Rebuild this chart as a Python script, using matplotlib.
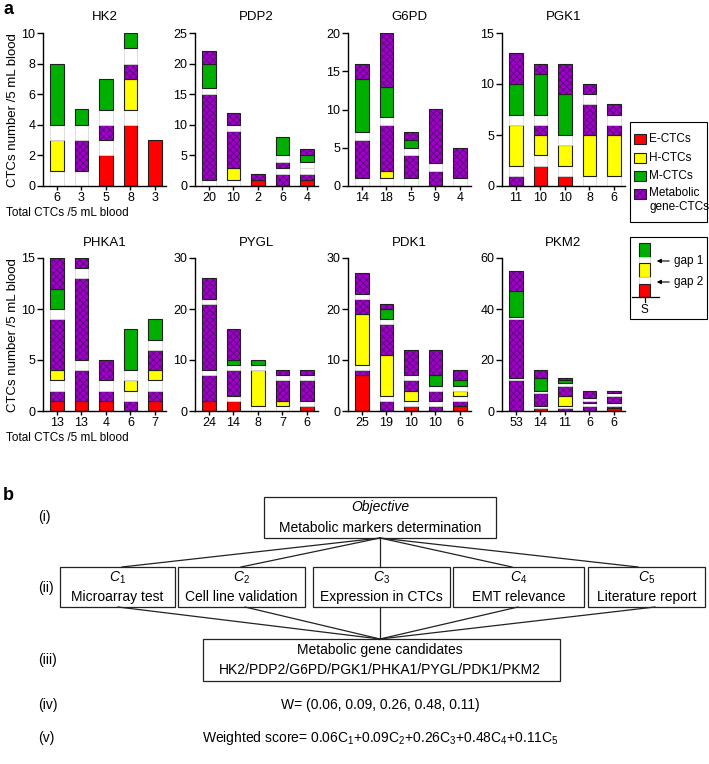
import matplotlib
matplotlib.use('Agg')
import matplotlib.pyplot as plt
from matplotlib import font_manager
from matplotlib.patches import Rectangle

# fonts: Arial-like for panel a, narrow for the flow chart if available
names = {f.name for f in font_manager.fontManager.ttflist}
narrow = 'Liberation Sans Narrow' if 'Liberation Sans Narrow' in names else 'Liberation Sans'
plt.rcParams['font.family'] = ['Liberation Sans', 'DejaVu Sans']
plt.rcParams['mathtext.fontset'] = 'custom'
plt.rcParams['mathtext.rm'] = narrow
plt.rcParams['mathtext.it'] = narrow + ':italic'
plt.rcParams['hatch.linewidth'] = 0.6

W, H = 709, 764

# ---- panel a data ----
genes = ['HK2', 'PDP2', 'G6PD', 'PGK1', 'PHKA1', 'PYGL', 'PDK1', 'PKM2']
y_tops = [10, 25, 20, 15, 15, 30, 30, 60]
y_steps = [2, 5, 5, 5, 5, 10, 10, 20]

# total CTCs /5 mL blood (x tick labels)
totals_hk2 = [6, 3, 5, 8, 3]
totals_pdp2 = [20, 10, 2, 6, 4]
totals_g6pd = [14, 18, 5, 9, 4]
totals_pgk1 = [11, 10, 10, 8, 6]
totals_phka1 = [13, 13, 4, 6, 7]
totals_pygl = [24, 14, 8, 7, 6]
totals_pdk1 = [25, 19, 10, 10, 6]
totals_pkm2 = [53, 14, 11, 6, 6]

# stacked pieces from the bottom up
# E = E-CTCs, H = H-CTCs, M = M-CTCs, P = metabolic gene-CTCs, g = gap
stack_hk2 = ['g1 H2 g1 M4', 'g1 P2 g1 M1', 'E2 g1 P1 g1 M2', 'E4 g1 H2 P1 g1 M1', 'E3']
stack_pdp2 = ['g1 P14 g1 M4 P2', 'g1 H2 P6 g1 P2', 'E1 P1', 'P2 g1 P1 g1 M3', 'E1 P1 g1 g1 M1 P1']
stack_g6pd = ['g1 P5 g1 M7 P2', 'g1 H1 P6 g1 M4 P7', 'g1 P3 g1 M1 P1', 'P2 g1 P7', 'g1 P4']
stack_pgk1 = ['P1 g1 H4 g1 M3 P3', 'E2 g1 H2 P1 g1 M4 P1', 'E1 g1 H2 g1 M4 P3', 'g1 H4 P3 g1 P1', 'g1 H4 P1 g1 P1']
stack_phka1 = ['E1 P1 g1 H1 P5 g1 M2 P3', 'E1 P3 g1 P8 g1 P1', 'E1 P1 g1 P2', 'P1 g1 H1 g1 M4', 'E1 P1 g1 H1 P2 g1 M2']
stack_pygl = ['E2 P5 g1 P13 g1 P4', 'E2 g1 P5 g1 M1 P6', 'g1 H7 g1 M1', 'g1 H1 P4 g1 P1', 'E1 g1 P4 g1 P1']
stack_pdk1 = ['E7 P1 g1 H10 P3 g1 P4', 'P2 g1 H8 P6 g1 M2 P1', 'E1 g1 H2 P2 g1 P5', 'P1 g1 P2 g1 M2 P5', 'E1 P1 g1 H1 g1 M1 P2']
stack_pkm2 = ['P12 g1 P23 g1 M10 P8', 'E1 g1 P5 g1 M5 P3', 'P1 g1 H4 P4 g1 M1 P1', 'P2 g1 P1 g1 P3', 'E1 P1 g1 P3 g1 P1']

stacks = [stack_hk2, stack_pdp2, stack_g6pd, stack_pgk1, stack_phka1, stack_pygl, stack_pdk1, stack_pkm2]
totals = [totals_hk2, totals_pdp2, totals_g6pd, totals_pgk1, totals_phka1, totals_pygl, totals_pdk1, totals_pkm2]

legend_labels = ['E-CTCs', 'H-CTCs', 'M-CTCs', 'Metabolic\ngene-CTCs']

# ---- panel b data ----
criteria = ['Microarray test', 'Cell line validation', 'Expression in CTCs', 'EMT relevance', 'Literature report']
weights = [0.06, 0.09, 0.26, 0.48, 0.11]
candidates = ['HK2', 'PDP2', 'G6PD', 'PGK1', 'PHKA1', 'PYGL', 'PDK1', 'PKM2']

colors = {'E': '#ff0000', 'H': '#ffff00', 'M': '#00b000', 'P': '#a000c8'}
dot_color = '#5a0a7a'
outline = '#202020'
bw = 0.55

fig = plt.figure(figsize=(W / 100, H / 100), dpi=100)


def px_axes(left, top, width, height):
    return fig.add_axes([left / W, 1 - (top + height) / H, width / W, height / H])


def draw_gene(ax, name, stk, tot, ytop, ystep):
    for i, s in enumerate(stk):
        bottom = 0
        for piece in s.split():
            kind, h = piece[0], int(piece[1:])
            if kind == 'g':
                ax.bar(i, h, bottom=bottom, width=bw, color='white', edgecolor='#d9d9d9', lw=0.6)
            elif kind == 'P':
                ax.bar(i, h, bottom=bottom, width=bw, color=colors['P'], edgecolor=dot_color,
                       hatch='xxxxx', lw=0)
                ax.bar(i, h, bottom=bottom, width=bw, fill=False, edgecolor=outline, lw=0.8)
            else:
                ax.bar(i, h, bottom=bottom, width=bw, color=colors[kind], edgecolor=outline, lw=0.8)
            bottom += h
    ax.set_xlim(-0.57, 4.45)
    ax.set_ylim(0, ytop)
    ax.set_yticks(range(0, ytop + 1, ystep))
    ax.set_xticks(range(len(tot)))
    ax.set_xticklabels([str(t) for t in tot])
    for sp in ['top', 'right']:
        ax.spines[sp].set_visible(False)
    for sp in ['left', 'bottom']:
        ax.spines[sp].set_linewidth(1.0)
    ax.tick_params(axis='y', length=4, width=1, labelsize=9, pad=1.5)
    ax.tick_params(axis='x', length=3, width=1, labelsize=9, pad=1)
    ax.set_title(name, fontsize=9.5, pad=9)


lefts = [43, 195, 348, 502]
row_tops = [33, 258]
for k, g in enumerate(genes):
    ax = px_axes(lefts[k % 4], row_tops[k // 4], 123, 153)
    draw_gene(ax, g, stacks[k], totals[k], y_tops[k], y_steps[k])

for rt in row_tops:
    fig.text(13 / W, 1 - (rt + 77) / H, 'CTCs number /5 mL blood', rotation=90,
             ha='center', va='center', fontsize=9.5)
    fig.text(6 / W, 1 - (rt + 180) / H, 'Total CTCs /5 mL blood', ha='left', va='center', fontsize=8.5)

# overlay in pixel coordinates for legends and panel b
ov = fig.add_axes([0, 0, 1, 1], zorder=10)
ov.set_xlim(0, W)
ov.set_ylim(H, 0)
ov.axis('off')
ov.patch.set_alpha(0)

ov.text(3, 9, 'a', fontsize=13, fontweight='bold', va='center', ha='left')
ov.text(3, 495, 'b', fontsize=13, fontweight='bold', va='center', ha='left')

# legend 1
ov.add_patch(Rectangle((630, 122), 77, 100, fill=False, lw=0.8, edgecolor='black'))
leg_y = [139, 158, 176, 194]
for lab, key, yy in zip(legend_labels, ['E', 'H', 'M', 'P'], leg_y):
    if key == 'P':
        ov.add_patch(Rectangle((634, yy - 5), 12, 10, facecolor=colors['P'], edgecolor=dot_color,
                               hatch='xxxxx', lw=0))
        ov.add_patch(Rectangle((634, yy - 5), 12, 10, fill=False, edgecolor=outline, lw=0.8))
        ov.text(649, yy - 7, lab, fontsize=8.5, va='top', ha='left', linespacing=1.2)
    else:
        ov.add_patch(Rectangle((634, yy - 5), 12, 10, facecolor=colors[key], edgecolor=outline, lw=0.8))
        ov.text(649, yy, lab, fontsize=8.5, va='center', ha='left')

# legend 2 (gap explanation)
ov.add_patch(Rectangle((630, 237), 77, 82, fill=False, lw=0.8, edgecolor='black'))
ov.add_patch(Rectangle((639, 243), 11, 14, facecolor=colors['M'], edgecolor=outline, lw=0.8))
ov.add_patch(Rectangle((639, 257), 11, 6, facecolor='white', edgecolor='#d9d9d9', lw=0.6))
ov.add_patch(Rectangle((639, 263), 11, 14, facecolor=colors['H'], edgecolor=outline, lw=0.8))
ov.add_patch(Rectangle((639, 277), 11, 7, facecolor='white', edgecolor='#d9d9d9', lw=0.6))
ov.add_patch(Rectangle((639, 284), 11, 13, facecolor=colors['E'], edgecolor=outline, lw=0.8))
ov.plot([632, 659], [297, 297], color='black', lw=0.9)
ov.plot([644.5, 644.5], [297, 302], color='black', lw=0.9)
ov.text(644.5, 310, 'S', fontsize=8.5, ha='center', va='center')
for yy, lab in [(261, 'gap 1'), (282, 'gap 2')]:
    ov.annotate('', xy=(654, yy), xytext=(672, yy),
                arrowprops=dict(arrowstyle='-|>', lw=0.8, color='black', mutation_scale=6))
    ov.text(674, yy, lab, fontsize=8.5, ha='left', va='center')

# ---- panel b flow chart ----
fb = dict(family=[narrow, 'DejaVu Sans'], fontsize=10)
for yy, lab in [(517, '(i)'), (588, '(ii)'), (660, '(iii)'), (705, '(iv)'), (738, '(v)')]:
    ov.text(38, yy, lab, ha='left', va='center', **fb)

cx = 380
ov.add_patch(Rectangle((264, 497), 232, 41, fill=False, lw=0.9, edgecolor='#222222'))
ov.text(cx, 507, 'Objective', ha='center', va='center', style='italic', **fb)
ov.text(cx, 528, 'Metabolic markers determination', ha='center', va='center', **fb)

c_boxes = [(60, 175), (178, 305), (313, 450), (453, 584), (588, 705)]
top_ends = [122, 241, 380, 512, 638]
bottom_starts = [118, 245, 380, 518, 655]
for j, (x0, x1) in enumerate(c_boxes):
    ov.add_patch(Rectangle((x0, 567), x1 - x0, 40, fill=False, lw=0.9, edgecolor='#222222'))
    xc = (x0 + x1) / 2
    ov.text(xc, 578, r'$C_{%d}$' % (j + 1), ha='center', va='center', **fb)
    ov.text(xc, 597, criteria[j], ha='center', va='center', **fb)
    ov.plot([cx, top_ends[j]], [538, 567], color='#222222', lw=0.9)
    ov.plot([bottom_starts[j], cx], [607, 639], color='#222222', lw=0.9)

ov.add_patch(Rectangle((203, 639), 357, 42, fill=False, lw=0.9, edgecolor='#222222'))
ov.text(cx, 650, 'Metabolic gene candidates', ha='center', va='center', **fb)
ov.text(cx, 670, '/'.join(candidates), ha='center', va='center', **fb)

ov.text(cx, 705, 'W= (' + ', '.join('%.2f' % w for w in weights) + ')', ha='center', va='center', **fb)
score = '+'.join('%.2fC$_{%d}$' % (w, j + 1) for j, w in enumerate(weights))
ov.text(cx, 738, 'Weighted score= ' + score, ha='center', va='center', **fb)

fig.savefig('out.png', dpi=100)
